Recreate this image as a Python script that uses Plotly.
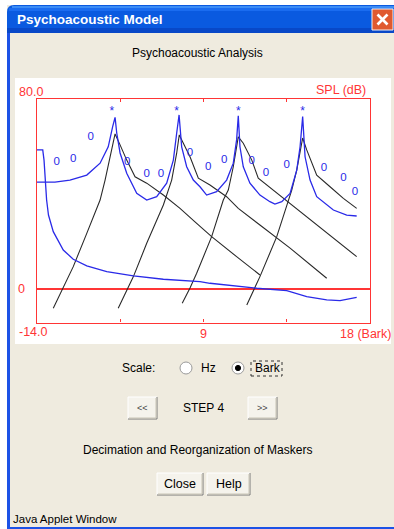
import plotly.graph_objects as go

W, H = 394, 529

# ---------------- data (Bark / dB SPL) ----------------
quiet_bark = [0, 0.31, 0.38, 0.52, 0.62, 0.88, 1.42, 1.96, 2.69, 3.77, 5.21, 6.83,
              8.81, 9.35, 11.88, 13.50, 14.58, 15.66, 16.38, 17.28]
quiet_db = [58.6, 58.6, 54.3, 37.5, 31.2, 24.2, 16.5, 12.6, 9.8, 7.4, 5.6, 4.2,
            3.2, 2.5, 0.4, -0.6, -3.1, -4.5, -4.8, -3.4]

thr_bark = [0, 0.97, 1.78, 2.69, 3.41, 3.85, 4.09, 4.22, 4.31, 4.49, 4.85, 5.39, 5.93,
            6.47, 7.01, 7.37, 7.55, 7.68, 7.82, 8.09, 8.45, 8.81, 9.17, 9.71, 10.25,
            10.61, 10.79, 10.88, 10.97, 11.15, 11.51, 12.05, 12.59, 12.86, 13.23, 13.68,
            14.04, 14.22, 14.36, 14.49, 14.76, 15.12, 16.02, 16.74, 17.28]
thr_db = [45.0, 45.0, 45.9, 48.0, 53.0, 59.9, 68.4, 72.3, 65.7, 57.3, 48.8, 40.3, 37.5,
          38.9, 44.6, 54.3, 65.6, 73.3, 59.9, 51.5, 45.9, 43.1, 39.6, 41.0, 45.9,
          53.0, 62.8, 72.9, 59.9, 51.5, 44.6, 39.6, 36.8, 35.8, 36.8, 40.3,
          50.1, 59.9, 72.6, 55.7, 45.9, 38.9, 33.3, 31.2, 30.8]

mask1_bark = [0.88, 1.96, 2.69, 3.41, 3.68, 4.04, 4.22, 4.49, 4.85, 5.30, 5.93, 6.83, 7.73, 8.54, 9.44, 10.79, 12.05]
mask1_db = [-8.0, 9.5, 23.5, 37.5, 45.9, 58.6, 65.3, 60.7, 54.3, 47.3, 44.6, 39.6, 34.0, 28.3, 22.1, 13.7, 6.0]

mask2_bark = [4.39, 5.21, 5.93, 6.83, 7.28, 7.55, 7.69, 7.91, 8.27, 8.72, 9.35, 10.25, 10.88, 12.05, 13.68, 15.66]
mask2_db = [-8.0, 5.3, 19.3, 35.4, 45.9, 57.2, 64.9, 61.4, 55.7, 46.7, 43.8, 38.9, 34.0, 27.0, 17.3, 4.6]

mask3_bark = [7.85, 8.27, 8.63, 9.44, 10.07, 10.34, 10.61, 10.79, 10.88, 11.15, 11.61, 11.96, 12.77, 13.68, 15.30, 17.28]
mask3_db = [-5.9, 0.5, 6.7, 22.1, 37.5, 41.7, 51.5, 59.9, 64.1, 61.4, 54.3, 46.7, 41.7, 36.1, 25.8, 13.7]

mask4_bark = [11.34, 12.05, 12.96, 13.50, 13.77, 14.04, 14.25, 14.36, 14.58, 14.85, 15.12, 15.84, 16.56, 17.28]
mask4_db = [-6.6, 5.3, 22.1, 35.4, 41.7, 50.1, 59.9, 63.6, 58.6, 53.0, 48.0, 43.1, 38.2, 34.0]

masker_bark = [4.04, 7.55, 10.88, 14.36]
masker_db = [74.5, 74.5, 74.5, 74.5]

comp_bark = [1.06, 1.96, 2.90, 4.88, 5.93, 6.70, 8.27, 9.26, 10.12, 11.61, 12.38, 13.50, 15.51, 16.56, 17.19]
comp_db = [53.6, 54.8, 64.1, 53.6, 48.5, 48.5, 57.2, 51.3, 54.3, 53.9, 49.0, 52.2, 50.9, 46.7, 41.0]

x_range = [0, 18]
y_range = [-14, 80]
x_ticks = [4.5, 9, 13.5]

RED = "#ff3535"
BLUE = "#2a2ae8"
BEIGE = "#efebdf"
FONT = "Liberation Sans"

fig = go.Figure()

blackline = dict(color="#2a2a2a", width=1.1)
for bx, by in [(mask1_bark, mask1_db), (mask2_bark, mask2_db), (mask3_bark, mask3_db), (mask4_bark, mask4_db)]:
    fig.add_trace(go.Scatter(x=bx, y=by, mode="lines", line=blackline, hoverinfo="skip"))

fig.add_trace(go.Scatter(x=quiet_bark, y=quiet_db, mode="lines", line=dict(color=BLUE, width=1.3)))
fig.add_trace(go.Scatter(x=thr_bark, y=thr_db, mode="lines", line=dict(color=BLUE, width=1.3)))
fig.add_trace(go.Scatter(x=masker_bark, y=masker_db, mode="text", text=["*"] * len(masker_bark),
                         textfont=dict(family=FONT, size=12, color=BLUE)))
fig.add_trace(go.Scatter(x=comp_bark, y=comp_db, mode="text", text=["0"] * len(comp_bark),
                         textfont=dict(family=FONT, size=11.5, color=BLUE)))


def X(px):
    return px / W


def Y(py):
    return 1 - py / H


shapes = []


def rect(x0, y0, x1, y1, fill, line=None, lw=0, dash=None, layer="below"):
    ln = dict(width=lw, color=line if line else fill)
    if dash:
        ln["dash"] = dash
    shapes.append(dict(type="rect", xref="paper", yref="paper", x0=X(x0), x1=X(x1),
                       y0=Y(y1), y1=Y(y0), fillcolor=fill, line=ln, layer=layer))


def seg(x0, y0, x1, y1, color, w=1, layer="below"):
    shapes.append(dict(type="line", xref="paper", yref="paper", x0=X(x0), x1=X(x1),
                       y0=Y(y0), y1=Y(y1), line=dict(color=color, width=w), layer=layer))


def circle(cx, cy, r, fill, line, lw=1, layer="below"):
    shapes.append(dict(type="circle", xref="paper", yref="paper", x0=X(cx - r), x1=X(cx + r),
                       y0=Y(cy + r), y1=Y(cy - r), fillcolor=fill,
                       line=dict(color=line, width=lw), layer=layer))


# window body
rect(7, 5, 400, 529, BEIGE)
# title bar with rounded corner
p = (f"M {X(7)},{Y(33)} L {X(7)},{Y(12)} Q {X(7)},{Y(5)} {X(14)},{Y(5)} "
     f"L {X(400)},{Y(5)} L {X(400)},{Y(33)} Z")
shapes.append(dict(type="path", xref="paper", yref="paper", path=p, fillcolor="#0a5ae0",
                   line=dict(width=0), layer="below"))
rect(12, 6, 400, 8, "#3b8cf5")
rect(9, 8, 400, 11, "#1a6cf0")
rect(7, 28, 400, 33, "#0848c8")
# borders
rect(7, 33, 10, 529, "#1c52e6")
rect(7, 527, 400, 529, "#1c52e6")
# close button
shapes.append(dict(type="rect", xref="paper", yref="paper", x0=X(372), x1=X(393), y0=Y(30), y1=Y(9),
                   fillcolor="#e0592f", line=dict(color="#f4f0ee", width=1), layer="below"))
seg(377.5, 14.5, 387.5, 24.5, "white", 2.6)
seg(387.5, 14.5, 377.5, 24.5, "white", 2.6)

# white plotting panel
rect(15, 78, 391, 344, "white")


def button(x0, y0, x1, y1):
    rect(x0, y0, x1, y1, "#f5f3ec")
    seg(x0, y0, x1, y0, "white", 1)
    seg(x0, y0, x0, y1, "white", 1)
    seg(x0, y1, x1, y1, "#7a7a7a", 1)
    seg(x1, y0, x1, y1, "#7a7a7a", 1)
    seg(x0 + 1, y1 - 1, x1 - 1, y1 - 1, "#c9c5b6", 1)
    seg(x1 - 1, y0 + 1, x1 - 1, y1 - 1, "#c9c5b6", 1)


button(128, 397, 157, 419)
button(248, 397, 277, 419)
button(157, 473, 203, 495)
button(207, 473, 250, 495)

# radio buttons
circle(186, 368, 6, "white", "#9a9a9a")
circle(238, 368, 6, "white", "#9a9a9a")
circle(238, 368, 2.6, "black", "black")
rect(251, 361, 282, 376, "rgba(0,0,0,0)", line="#333333", lw=1, dash="dot")

annotations = []


def text(x, y, s, size=12, color="black", xanchor="center", bold=False, family=FONT):
    annotations.append(dict(x=X(x), y=Y(y), xref="paper", yref="paper", text=f"<b>{s}</b>" if bold else s,
                            showarrow=False, xanchor=xanchor, yanchor="middle",
                            font=dict(family=family, size=size, color=color)))


text(15, 19, "Psychoacoustic Model", 13.5, "white", "left", bold=True)
text(197, 53, "Psychoacoustic Analysis", 12)
text(120, 368, "Scale:", 12, xanchor="left")
text(199, 368, "Hz", 12, xanchor="left")
text(253, 368, "Bark", 12, xanchor="left")
text(142.5, 408, "&lt;&lt;", 9, "#444444")
text(262.5, 408, "&gt;&gt;", 9, "#444444")
text(203, 408, "STEP 4", 12)
text(197, 450, "Decimation and Reorganization of Maskers", 12)
text(180, 484, "Close", 12.5)
text(228.5, 484, "Help", 12.5)
text(11, 519, "Java Applet Window", 11.5, xanchor="left")

# axis labels (red) placed through data coordinates
def dtext(x, y, s, xanchor="center", yanchor="middle", xshift=0, yshift=0):
    annotations.append(dict(x=x, y=y, xref="x", yref="y", text=s, showarrow=False,
                            xanchor=xanchor, yanchor=yanchor, xshift=xshift, yshift=yshift,
                            font=dict(family=FONT, size=12.5, color=RED)))


dtext(0, y_range[1], "80.0", xanchor="center", yanchor="bottom", xshift=-6, yshift=-2)
dtext(x_range[1], y_range[1], "SPL (dB)", xanchor="right", yanchor="bottom", xshift=-2, yshift=0)
dtext(0, 0, "0", xanchor="right", xshift=-10)
dtext(0, y_range[0], "-14.0", xanchor="center", yanchor="top", xshift=-4, yshift=0)
dtext(9, y_range[0], "9", yanchor="top", yshift=-2)
dtext(x_range[1], y_range[0], "18 (Bark)", xanchor="center", yanchor="top", xshift=-5, yshift=-2)

fig.update_layout(
    width=W, height=H, autosize=False, margin=dict(l=0, r=0, t=0, b=0),
    paper_bgcolor="white", plot_bgcolor="rgba(0,0,0,0)", showlegend=False,
    shapes=shapes, annotations=annotations,
    xaxis=dict(domain=[X(37), X(370)], range=x_range, showgrid=False, zeroline=False,
               showline=True, linecolor=RED, linewidth=1.3, mirror="ticks",
               ticks="inside", tickvals=x_ticks, ticklen=3, tickcolor=RED, tickwidth=1,
               showticklabels=False, fixedrange=True),
    yaxis=dict(domain=[Y(322.5), Y(99)], range=y_range, showgrid=False, zeroline=True,
               zerolinecolor=RED, zerolinewidth=1.5,
               showline=True, linecolor=RED, linewidth=1.3, mirror=True,
               ticks="", showticklabels=False, fixedrange=True),
)

fig.write_html("out.html", config={"displayModeBar": False},
               post_script="document.body.style.margin='0';document.body.style.overflow='hidden';")
